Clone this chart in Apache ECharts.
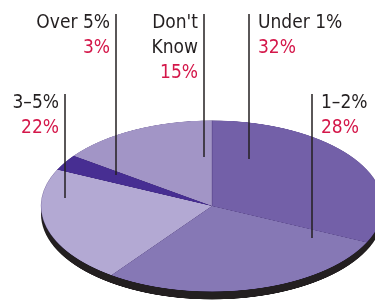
<!DOCTYPE html>
<html>
<head>
<meta charset="utf-8">
<script src="https://cdn.jsdelivr.net/npm/echarts@6/dist/echarts.min.js"></script>
<style>
html, body { margin: 0; padding: 0; background: #fff; overflow: hidden; }
#wrap { position: relative; width: 375px; height: 300px; overflow: hidden; }
/* pie drawn at double height, then squashed into an ellipse */
#pie { position: absolute; left: 0; top: 0; width: 375px; height: 600px; transform: scaleY(0.5); transform-origin: 0 0; }
#labels { position: absolute; left: 0; top: 0; width: 375px; height: 300px; }
</style>
</head>
<body>
<div id="wrap">
  <div id="pie"></div>
  <div id="labels"></div>
</div>
<script>
// data
var categories = ['Under 1%', '1–2%', '3–5%', 'Over 5%', "Don't\nKnow"]
var shares = [32, 28, 22, 3, 15]
var sliceColors = ['#7360a8', '#8678b5', '#b3a9d3', '#472e92', '#a295c6']

// label anchor (x, top y) and leader line (x, top, bottom) for each slice
var labelPos = [
  {x: 258, y: 11, align: 'left', lx: 249, top: 14, bottom: 159},
  {x: 321, y: 91, align: 'left', lx: 312, top: 94, bottom: 238},
  {x: 59, y: 91, align: 'right', lx: 65, top: 94, bottom: 198},
  {x: 110, y: 11, align: 'right', lx: 116, top: 14, bottom: 175},
  {x: 198, y: 11, align: 'right', lx: 204, top: 14, bottom: 157}
]

var pieData = categories.map(function (c, i) {
  return {name: c, value: shares[i], itemStyle: {color: sliceColors[i]}}
})

var FONT = '"Liberation Sans Narrow", "DejaVu Sans Condensed", sans-serif'

// the elliptical pie with its dark rim
var pieChart = echarts.init(document.getElementById('pie'), null, {devicePixelRatio: 2})
pieChart.setOption({
  animation: false,
  series: [
    { // dark base showing as the rim
      type: 'pie',
      silent: true,
      center: [212, 428],
      radius: 171,
      label: {show: false},
      labelLine: {show: false},
      itemStyle: {color: '#231f20'},
      data: [1],
      z: 1
    },
    {
      type: 'pie',
      silent: true,
      center: [212, 412],
      radius: 171,
      startAngle: 90,
      clockwise: true,
      label: {show: false},
      labelLine: {show: false},
      itemStyle: {borderWidth: 0.5, borderColor: 'rgba(60,40,110,0.5)'},
      data: pieData,
      z: 2
    }
  ]
})

// labels + vertical leader lines, not squashed
var labelChart = echarts.init(document.getElementById('labels'))
labelChart.setOption({
  animation: false,
  series: [
    {
      type: 'pie',
      silent: true,
      center: [212, 206],
      radius: 86,
      startAngle: 90,
      avoidLabelOverlap: false,
      itemStyle: {color: 'rgba(0,0,0,0)'},
      label: {
        show: true,
        overflow: 'none',
        alignTo: 'none',
        formatter: function (p) {
          return '{n|' + p.name + '}\n{p|' + p.value + '%}'
        },
        rich: {
          n: {fontFamily: FONT, fontSize: 19, lineHeight: 25, color: '#231f20'},
          p: {fontFamily: FONT, fontSize: 19, lineHeight: 25, color: '#d4174a'}
        }
      },
      labelLine: {
        show: true,
        lineStyle: {color: '#231f20', width: 1.5}
      },
      labelLayout: function (params) {
        var l = labelPos[params.dataIndex]
        return {
          x: l.x,
          y: l.y,
          align: l.align,
          verticalAlign: 'top',
          labelLinePoints: [[l.lx, l.bottom], [l.lx, l.top], [l.lx, l.top]]
        }
      },
      data: pieData.map(function (d) {
        return {name: d.name, value: d.value}
      })
    }
  ]
})
</script>
</body>
</html>
